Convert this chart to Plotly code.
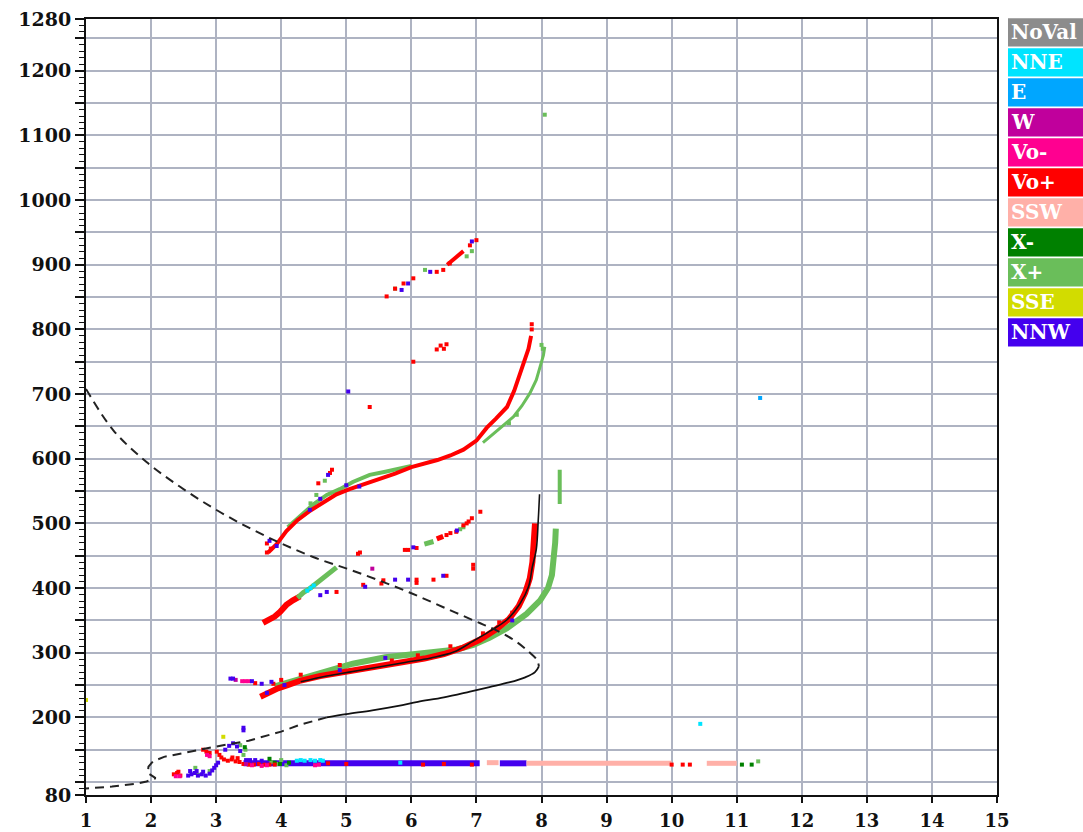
import plotly.graph_objects as go

# ---------------- axes ----------------
freq_range = [1, 15]          # MHz
height_range = [80, 1280]     # km
freq_ticks = list(range(1, 16))
height_ticks = [80, 100, 150, 200, 250, 300, 350, 400, 450, 500, 550, 600, 650, 700,
                750, 800, 850, 900, 950, 1000, 1050, 1100, 1150, 1200, 1250, 1280]
height_labels = ["80", "", "", "200", "", "300", "", "400", "", "500", "", "600", "", "700",
                 "", "800", "", "900", "", "1000", "", "1100", "", "1200", "", "1280"]

# ---------------- echo classes ----------------
class_names = ["NoVal", "NNE", "E", "W", "Vo-", "Vo+", "SSW", "X-", "X+", "SSE", "NNW"]
class_colors = ["#8c8c8c", "#00e4ff", "#00a6ff", "#c0009c", "#ff0090", "#ff0000",
                "#ffb0a8", "#008000", "#6abe5a", "#d2dc00", "#4400ee"]
COL = dict(zip(class_names, class_colors))

# ---------------- model profile (true height) ----------------
topside_f = [1.0, 1.42, 1.93, 2.44, 2.95, 3.47, 3.98, 4.49, 5.01, 5.5, 6.0, 6.5, 7.0, 7.3, 7.6, 7.8, 7.93, 7.96]
topside_h = [708, 644, 595, 557, 524, 495, 470, 448, 430, 412, 392, 370, 348, 335, 318, 302, 289, 279]
profile_f = [7.96, 7.9, 7.75, 7.5, 7.2, 6.9, 6.5, 6.1, 5.8, 5.4, 5.0, 4.7]
profile_h = [279, 270, 262, 254, 247, 240, 231, 224, 218, 211, 205, 200]
bottom_f = [4.7, 4.3, 4.0, 3.5, 3.0, 2.5, 2.2, 2.03, 1.96, 1.95, 2.07, 1.93, 1.8, 1.4, 1.0]
bottom_h = [200, 189, 178, 164, 155, 145, 139, 132, 124, 114, 106, 101, 98, 93, 90]

# fitted O-trace (virtual height)
ofit_f = [4.3, 4.7, 5.1, 5.5, 5.9, 6.3, 6.65, 6.95, 7.2, 7.47, 7.67, 7.8, 7.86, 7.92, 7.95, 7.97]
ofit_h = [255, 264, 271, 278, 285, 292, 301, 318, 333, 351, 376, 402, 433, 460, 505, 545]

# ---------------- traced echoes (drawn as bands) ----------------
o_trace_f = [3.68, 3.8, 3.95, 4.1, 4.3, 4.6, 5.0, 5.4, 5.8, 6.2, 6.5, 6.8, 7.05, 7.3, 7.5, 7.65, 7.75, 7.82, 7.86, 7.88, 7.9]
o_trace_h = [232, 238, 245, 250, 257, 264, 271, 277, 283, 291, 298, 308, 320, 336, 352, 372, 393, 415, 440, 470, 500]

x_trace_f = [3.9, 4.1, 4.4, 4.8, 5.1, 5.6, 6.0, 6.4, 6.7, 6.95, 7.2, 7.47, 7.77, 7.98, 8.1, 8.16, 8.19, 8.21, 8.22]
x_trace_h = [248, 254, 264, 276, 283, 293, 298, 302, 305, 312, 323, 338, 360, 381, 400, 420, 445, 470, 492]
x_spur_f = [8.28, 8.28]
x_spur_h = [530, 583]

two_hop_o_f = [3.80, 3.93, 4.08, 4.25, 4.45, 4.65, 4.85, 5.05, 5.26, 5.5, 5.75, 6.0, 6.2, 6.4, 6.6, 6.8,
               7.0, 7.16, 7.3, 7.47, 7.58, 7.66, 7.74, 7.8, 7.84]
two_hop_o_h = [455, 468, 488, 505, 520, 533, 545, 553, 560, 568, 577, 587, 592, 598, 605, 614,
               628, 648, 662, 680, 705, 728, 750, 770, 790]
two_hop_x_f = [4.1, 4.3, 4.5, 4.7, 4.9, 5.1, 5.36, 5.6, 5.83, 6.0]
two_hop_x_h = [494, 512, 530, 544, 553, 564, 575, 580, 585, 589]
two_hop_x2_f = [7.1, 7.26, 7.4, 7.57, 7.7, 7.82, 7.92, 7.98, 8.03, 8.05]
two_hop_x2_h = [625, 639, 650, 665, 682, 701, 722, 742, 760, 773]

mid_o_f = [3.72, 3.8, 3.9, 3.98, 4.08, 4.18, 4.29]
mid_o_h = [346, 350, 356, 363, 374, 381, 387]
mid_x_f = [4.25, 4.34, 4.45, 4.55, 4.65, 4.75, 4.85]
mid_x_h = [385, 393, 400, 408, 417, 425, 432]

mr_x_f = [6.2, 6.34]
mr_x_h = [468, 472]
mr_o_f = [6.39, 6.49]
mr_o_h = [476, 480]

three_hop_o_f = [6.55, 6.6, 6.65, 6.7, 6.75, 6.8]
three_hop_o_h = [900, 904, 908, 913, 917, 921]

# sporadic-E band: (class, start MHz, end MHz, height km)
e_band_class = ["NNW", "NNW", "SSW", "SSW", "SSW"]
e_band_start = [3.42, 7.36, 7.16, 7.77, 10.54]
e_band_end = [7.05, 7.77, 7.34, 10.0, 11.0]
e_band_h = [129, 129, 130, 129, 129]

# ---------------- single echoes ----------------
dots = {
    "Vo+": (
        [2.35, 2.4, 2.45, 2.42, 2.8, 2.85, 2.9, 3.01, 3.05, 3.08, 3.12, 3.18, 3.24, 3.3, 3.36, 3.42, 3.5,
         3.58, 3.66, 3.74, 3.82, 3.9, 3.25, 3.33, 4.72, 5.0, 6.18, 6.93, 6.5, 10.17, 10.28, 10.0,
         3.6, 3.88,
         3.78, 3.78, 3.84, 4.57, 4.78, 4.75, 5.18, 5.21, 5.26, 5.54, 5.57, 6.08, 6.08, 6.34, 6.54, 6.95, 6.95,
         4.85, 5.36, 6.03, 6.39, 6.45, 6.5, 6.54, 7.85, 7.85,
         5.9, 5.95, 6.08, 6.54, 6.6, 6.69, 6.8, 6.85, 6.88, 6.93, 7.06,
         5.62, 5.75, 5.88, 6.03, 6.39, 6.49, 6.9, 7.0, 6.59,
         4.0, 4.3, 4.9, 5.3, 5.7, 6.1, 6.6, 7.1, 7.35, 7.55],
        [112, 114, 110, 116, 150, 147, 145, 147, 142, 138, 135, 133, 135, 132, 131, 128, 127,
         127, 128, 127, 127, 127, 138, 137, 129, 128, 127, 127, 128, 127, 127, 127,
         253, 252,
         469, 455, 461, 562, 583, 578, 453, 455, 405, 407, 412, 413, 408, 413, 419, 436, 430,
         394, 680, 750, 769, 775, 770, 777, 800, 808,
         459, 459, 462, 482, 485, 487, 497, 500, 503, 508, 518,
         851, 863, 871, 879, 889, 892, 930, 938, 902,
         258, 266, 281, 276, 288, 296, 310, 330, 347, 362]),
    "Vo-": (
        [2.38, 2.44, 2.86, 2.9, 3.4, 3.45, 3.5, 3.55, 3.7, 3.78, 4.52, 4.58],
        [109, 109, 142, 140, 256, 256, 256, 126, 125, 126, 126, 127]),
    "NNW": (
        [2.57, 2.62, 2.67, 2.72, 2.78, 2.84, 2.9, 2.94, 2.97, 3.0, 3.03, 2.6, 2.7, 2.8,
         3.14, 3.2, 3.26, 3.32, 3.37, 3.42, 3.42, 3.46, 3.52, 3.6, 3.7,
         3.22, 3.26, 3.55, 3.7, 3.85, 3.78,
         5.03, 5.29, 5.75, 5.95, 6.49, 4.6, 4.7, 4.44, 4.72, 6.03, 6.7,
         5.85, 5.95, 6.29, 6.93, 3.93, 3.82, 4.6, 5.0, 5.2, 4.05, 4.9, 5.6, 7.55],
        [110, 112, 114, 110, 112, 110, 113, 118, 122, 126, 130, 117, 117, 116,
         150, 156, 160, 155, 148, 180, 184, 134, 134, 134, 133,
         260, 260, 256, 252, 255, 238,
         704, 402, 413, 413, 419, 389, 394, 521, 575, 463, 489,
         861, 871, 889, 936, 465, 473, 538, 559, 557, 250, 273, 292, 350]),
    "X+": (
        [2.68, 2.72, 2.9, 3.42, 3.45, 3.37, 3.85, 3.92, 4.0, 4.08, 11.33,
         8.05, 4.54, 4.45, 4.67, 6.21, 5.75, 6.85, 6.93, 6.75, 6.8, 8.0, 8.02, 7.5, 7.62],
        [122, 111, 117, 142, 150, 157, 131, 128, 134, 126, 132,
         1132, 544, 531, 566, 892, 863, 913, 921, 491, 494, 776, 770, 655, 668]),
    "X-": (
        [3.44, 3.82, 3.9, 3.98, 4.12, 11.08, 11.23],
        [154, 136, 130, 128, 130, 127, 127]),
    "NNE": (
        [4.24, 4.3, 4.36, 4.45, 4.52, 4.6, 4.64, 5.83, 10.44, 4.4, 4.45, 4.5],
        [133, 134, 133, 134, 133, 134, 133, 130, 190, 396, 400, 404]),
    "E": (
        [11.36],
        [694]),
    "SSE": (
        [1.0, 3.11],
        [227, 170]),
    "W": (
        [3.3, 3.46, 5.4],
        [258, 128, 430]),
}

fig = go.Figure()


def band(f, h, name, width):
    fig.add_trace(go.Scatter(x=f, y=h, mode="lines", line=dict(color=COL[name], width=width),
                             hoverinfo="skip", showlegend=False))


# sporadic-E layer
for cls, f0, f1, hh in zip(e_band_class, e_band_start, e_band_end, e_band_h):
    band([f0, f1], [hh, hh], cls, 6 if cls == "NNW" else 5)

# reflection traces
band(x_trace_f, x_trace_h, "X+", 6)
band(x_spur_f, x_spur_h, "X+", 4)
band(o_trace_f, o_trace_h, "Vo+", 6)
band(two_hop_x_f, two_hop_x_h, "X+", 4)
band(two_hop_o_f, two_hop_o_h, "Vo+", 4)
band(two_hop_x2_f, two_hop_x2_h, "X+", 3)
band(mid_o_f, mid_o_h, "Vo+", 6)
band(mid_x_f, mid_x_h, "X+", 5)
band(mr_x_f, mr_x_h, "X+", 5)
band(mr_o_f, mr_o_h, "Vo+", 5)
band(three_hop_o_f, three_hop_o_h, "Vo+", 4)

# individual echoes
for name in ["X+", "X-", "Vo+", "Vo-", "NNE", "E", "W", "SSE", "NNW"]:
    fx, fy = dots[name]
    fig.add_trace(go.Scatter(x=fx, y=fy, mode="markers",
                             marker=dict(symbol="square", size=4, color=COL[name], line=dict(width=0)),
                             hoverinfo="skip", showlegend=False))

# fitted O-trace and model profile
fig.add_trace(go.Scatter(x=ofit_f, y=ofit_h, mode="lines", line=dict(color="#111111", width=1.6),
                         line_shape="spline", hoverinfo="skip", showlegend=False))
fig.add_trace(go.Scatter(x=topside_f, y=topside_h, mode="lines",
                         line=dict(color="#222222", width=2, dash="9px,6px"),
                         line_shape="spline", hoverinfo="skip", showlegend=False))
fig.add_trace(go.Scatter(x=profile_f, y=profile_h, mode="lines", line=dict(color="#111111", width=1.8),
                         line_shape="spline", hoverinfo="skip", showlegend=False))
fig.add_trace(go.Scatter(x=bottom_f, y=bottom_h, mode="lines",
                         line=dict(color="#222222", width=2, dash="9px,6px"),
                         hoverinfo="skip", showlegend=False))

# ---------------- class key on the right ----------------
W, H = 1083, 832
L, R, T, B = 86, 86, 19, 37
pw, ph = W - L - R, H - T - B
key_x0, key_x1 = 1008, 1083
for i, (name, color) in enumerate(zip(class_names, class_colors)):
    top = 18.3 + 30 * i
    bot = top + 28.3
    fig.add_shape(type="rect", xref="paper", yref="paper",
                  x0=(key_x0 - L) / pw, x1=(key_x1 - L) / pw,
                  y0=1 - (bot - T) / ph, y1=1 - (top - T) / ph,
                  fillcolor=color, line=dict(width=0), layer="above")
    fig.add_annotation(xref="paper", yref="paper", x=(key_x0 + 1 - L) / pw,
                       y=1 - ((top + bot) / 2 - T) / ph, xanchor="left", yanchor="middle",
                       text=name, showarrow=False,
                       font=dict(family="DejaVu Serif", size=20, color="white", weight="bold"))

axis_font = dict(family="DejaVu Serif", size=19, color="#111111", weight="bold")
grid_col = "#aeb3c2"

fig.update_layout(
    width=W, height=H,
    margin=dict(l=L, r=R, t=T, b=B, pad=0),
    paper_bgcolor="white", plot_bgcolor="white",
    xaxis=dict(range=freq_range, tickvals=freq_ticks, ticktext=[str(v) for v in freq_ticks],
               showgrid=True, gridcolor=grid_col, gridwidth=1.5, automargin=False,
               showline=True, linecolor="#111111", linewidth=2, mirror=True,
               ticks="outside", ticklen=6, tickwidth=1.5, tickcolor="#111111",
               ticklabelstandoff=2,
               tickfont=dict(family="DejaVu Serif", size=18, color="#111111", weight="bold"),
               zeroline=False),
    yaxis=dict(range=height_range, tickvals=height_ticks, ticktext=height_labels,
               showgrid=True, gridcolor=grid_col, gridwidth=1.5, automargin=False,
               showline=True, linecolor="#111111", linewidth=2, mirror=True,
               ticks="outside", ticklen=9, tickwidth=1.5, tickcolor="#111111",
               tickfont=axis_font, zeroline=False,
               minor=dict(tick0=0, dtick=10, ticks="outside", ticklen=5, tickwidth=1,
                          tickcolor="#111111", showgrid=False)),
)

fig.write_html("out.html")
